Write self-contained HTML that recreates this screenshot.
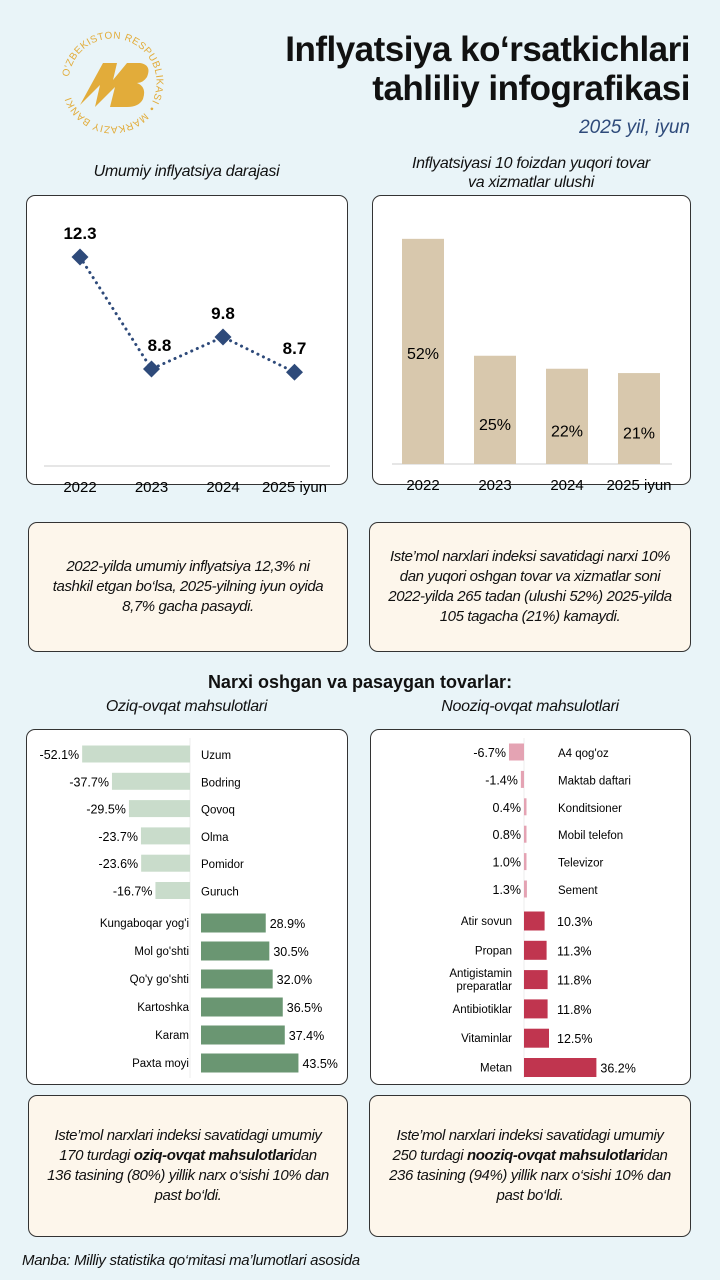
<!DOCTYPE html>
<html><head><meta charset="utf-8">
<style>
*{margin:0;padding:0;box-sizing:border-box}
body{width:720px;height:1280px;background:#e9f4f8;font-family:"Liberation Sans Narrow","Liberation Sans",sans-serif;position:relative;overflow:hidden;color:#111}
.abs{position:absolute}
.box{position:absolute;background:#fff;border:1.5px solid #333;border-radius:9px}
.note{position:absolute;background:#fdf6eb;border:1.5px solid #333;border-radius:9px;display:flex;align-items:center;justify-content:center;text-align:center;font-style:italic;font-size:15px;letter-spacing:-0.4px;line-height:20px;padding:0 18px}
.note>div{width:100%}
.ctitle{position:absolute;font-style:italic;font-size:16px;letter-spacing:-0.3px;text-align:center;line-height:19px}
svg text{font-family:"Liberation Sans","Liberation Sans Narrow",sans-serif}
</style></head><body>
<svg class="abs" style="left:55px;top:25px" width="115" height="115" viewBox="0 0 115 115">
<defs><path id="circ" d="M57.5,57.5 m-44,0 a44,44 0 1,1 88,0 a44,44 0 1,1 -88,0"/></defs>
<text font-size="10" fill="#e2ac3a" letter-spacing="0.5"><textPath href="#circ" startOffset="2%">O'ZBEKISTON RESPUBLIKASI •</textPath></text>
<text font-size="10" fill="#e2ac3a" letter-spacing="0.5"><textPath href="#circ" startOffset="62%">MARKAZIY BANKI</textPath></text>
<path d="M25,80 L48,38 L62,38 L58,55 L72,38 L85,38 Q97,40 92,52 Q88,58 82,58 Q92,62 88,74 Q84,82 72,82 L55,82 L60,62 L40,82 L45,60 Z" fill="#e2ac3a"/>
</svg>
<div class="abs" style="right:30px;top:30px;text-align:right;font-weight:bold;font-size:35px;line-height:39px;letter-spacing:-0.5px">Inflyatsiya ko‘rsatkichlari<br>tahliliy infografikasi</div>
<div class="abs" style="right:30px;top:117px;font-style:italic;font-size:19px;color:#2e4a7a">2025 yil, iyun</div>

<div class="ctitle" style="left:25px;width:323px;top:162px">Umumiy inflyatsiya darajasi</div>
<div class="ctitle" style="left:372px;width:318px;top:154px">Inflyatsiyasi 10 foizdan yuqori tovar<br>va xizmatlar ulushi</div>

<div class="box" style="left:26px;top:195px;width:322px;height:290px"></div>
<div class="box" style="left:372px;top:195px;width:319px;height:290px"></div>
<svg class="abs" id="charts" style="left:0;top:0" width="720" height="500"></svg>

<div class="note" style="left:28px;top:522px;width:320px;height:130px"><div>2022-yilda umumiy inflyatsiya 12,3% ni tashkil etgan bo‘lsa, 2025-yilning iyun oyida 8,7% gacha pasaydi.</div></div>
<div class="note" style="left:369px;top:522px;width:322px;height:130px"><div>Iste’mol narxlari indeksi savatidagi narxi 10% dan yuqori oshgan tovar va xizmatlar soni 2022-yilda 265 tadan (ulushi 52%) 2025-yilda 105 tagacha (21%) kamaydi.</div></div>

<div class="abs" style="left:0;width:720px;top:672px;text-align:center;font-weight:bold;font-size:18px">Narxi oshgan va pasaygan tovarlar:</div>
<div class="ctitle" style="left:25px;width:323px;top:697px">Oziq-ovqat mahsulotlari</div>
<div class="ctitle" style="left:369px;width:322px;top:697px">Nooziq-ovqat mahsulotlari</div>

<div class="box" style="left:26px;top:729px;width:322px;height:356px"></div>
<div class="box" style="left:370px;top:729px;width:321px;height:356px"></div>
<svg class="abs" id="bars" style="left:0;top:0" width="720" height="1100"></svg>

<div class="note" style="left:28px;top:1095px;width:320px;height:142px"><div>Iste’mol narxlari indeksi savatidagi umumiy 170 turdagi <b>oziq-ovqat mahsulotlari</b>dan 136 tasining (80%) yillik narx o‘sishi 10% dan past bo‘ldi.</div></div>
<div class="note" style="left:369px;top:1095px;width:322px;height:142px"><div>Iste’mol narxlari indeksi savatidagi umumiy 250 turdagi <b>nooziq-ovqat mahsulotlari</b>dan 236 tasining (94%) yillik narx o‘sishi 10% dan past bo‘ldi.</div></div>
<div class="abs" style="left:22px;top:1252px;font-style:italic;font-size:15px;letter-spacing:-0.3px">Manba: Milliy statistika qo‘mitasi ma’lumotlari asosida</div>

<script>
const years = ["2022","2023","2024","2025 iyun"];
const inflation = [12.3, 8.8, 9.8, 8.7];
const shareCats = ["2022","2023","2024","2025 iyun"];
const shareVals = [52, 25, 22, 21];
const foodNeg = ["Uzum","Bodring","Qovoq","Olma","Pomidor","Guruch"];
const foodNegVals = [-52.1,-37.7,-29.5,-23.7,-23.6,-16.7];
const foodPos = ["Kungaboqar yog'i","Mol go'shti","Qo'y go'shti","Kartoshka","Karam","Paxta moyi"];
const foodPosVals = [28.9,30.5,32.0,36.5,37.4,43.5];
const nfNeg = ["A4 qog'oz","Maktab daftari","Konditsioner","Mobil telefon","Televizor","Sement"];
const nfNegVals = [-6.7,-1.4,0.4,0.8,1.0,1.3];
const nfPos = ["Atir sovun","Propan","Antigistamin preparatlar","Antibiotiklar","Vitaminlar","Metan"];
const nfPosVals = [10.3,11.3,11.8,11.8,12.5,36.2];

const NS="http://www.w3.org/2000/svg";
function mk(p,tag,attrs,txt){const e=document.createElementNS(NS,tag);for(const k in attrs)e.setAttribute(k,attrs[k]);if(txt!==undefined)e.textContent=txt;p.appendChild(e);return e;}
const C=document.getElementById('charts');
const lx=i=>80+i*71.5, ly=v=>257+(12.3-v)*32;
mk(C,'line',{x1:44,x2:330,y1:466,y2:466,stroke:'#ddd','stroke-width':1.5});
let pts=inflation.map((v,i)=>lx(i)+','+ly(v)).join(' ');
let pl=mk(C,'polyline',{points:pts,fill:'none',stroke:'#2e4a7a','stroke-width':3,'stroke-dasharray':'0.1 6','stroke-linecap':'round'});

inflation.forEach((v,i)=>{
 const x=lx(i),y=ly(v);
 const d=mk(C,'rect',{x:x-6,y:y-6,width:12,height:12,fill:'#2e4a7a',transform:`rotate(45 ${x} ${y})`});
 
 
 mk(C,'text',{x:x+(i==1?8:0),y:y-18,'text-anchor':'middle','font-size':17,'font-weight':'bold'},v.toFixed(1));
 mk(C,'text',{x:x,y:492,'text-anchor':'middle','font-size':15},years[i]);
});
const bx=i=>402+i*72, by=v=>464-v*4.33;
mk(C,'line',{x1:392,x2:672,y1:464,y2:464,stroke:'#ddd','stroke-width':1.5});
shareVals.forEach((v,i)=>{
 const r=mk(C,'rect',{x:bx(i),y:by(v),width:42,height:464-by(v),fill:'#d8c8ad'});
 
 
 const ly2 = i==0 ? by(v)+120 : 464-(464-by(v))*0.5+20;
 mk(C,'text',{x:bx(i)+21,y:ly2,'text-anchor':'middle','font-size':16},v+'%');
 mk(C,'text',{x:bx(i)+21,y:490,'text-anchor':'middle','font-size':15},shareCats[i]);
});
const B=document.getElementById('bars');
function panel(axis,posStart,negScale,posScale,negNames,negVals,posNames,posVals,negY0,negStep,posY0,posStep,cNeg,cPos,nameX,posValMin,key){
 mk(B,'line',{x1:axis,x2:axis,y1:738,y2:1078,stroke:'#eee','stroke-width':1});
 negVals.forEach((v,i)=>{
  const y=negY0+i*negStep, w=Math.max(Math.abs(v)*negScale,2.5);
  const x = v<0 ? axis-w : axis;
  const r=mk(B,'rect',{x:x,y:y-8.5,width:w,height:17,fill:cNeg});
  
  
  mk(B,'text',{x:Math.min(x,axis)-3,y:y+5,'text-anchor':'end','font-size':12.5},v.toFixed(1)+'%');
  mk(B,'text',{x:nameX,y:y+5,'font-size':11.5},negNames[i]);
 });
 posVals.forEach((v,i)=>{
  const y=posY0+i*posStep, w=v*posScale;
  const r=mk(B,'rect',{x:posStart,y:y-9.5,width:w,height:19,fill:cPos});
  
  
  mk(B,'text',{x:Math.max(posStart+w+4,posValMin),y:y+5,'font-size':12.5},v.toFixed(1)+'%');
  const parts=posNames[i]==="Antigistamin preparatlar"?["Antigistamin","preparatlar"]:[posNames[i]];
  parts.forEach((p,j)=>mk(B,'text',{x:posStart-12,y:y+4+(j-(parts.length-1)/2)*13,'text-anchor':'end','font-size':11.5},p));
 });
}
panel(190,201,2.07,2.24,foodNeg,foodNegVals,foodPos,foodPosVals,754,27.3,923,28,'#c9dccb','#6a9672',201,0,'food');
panel(524,524,2.24,2.0,nfNeg,nfNegVals,nfPos,nfPosVals,752,27.4,921,29.3,'#e4a3b3','#c0354f',558,557,'nonfood');
</script>
</body></html>
